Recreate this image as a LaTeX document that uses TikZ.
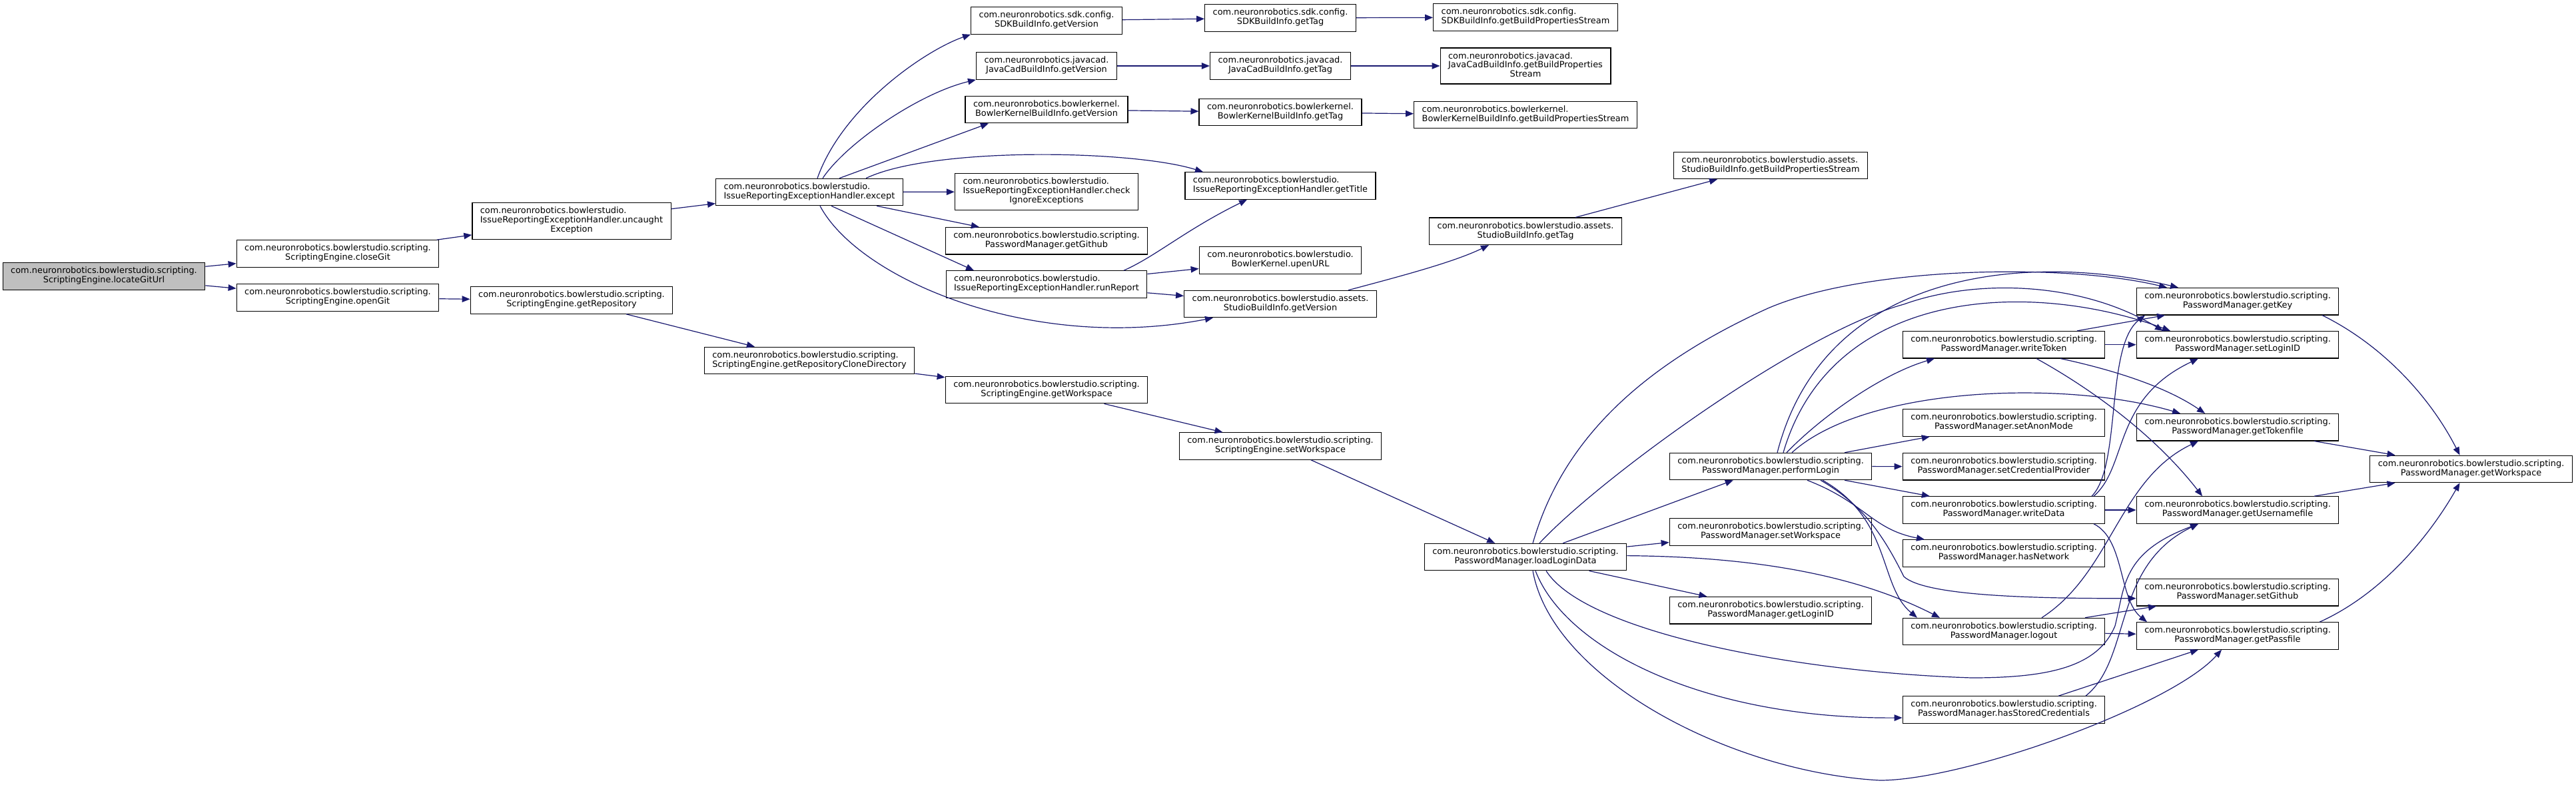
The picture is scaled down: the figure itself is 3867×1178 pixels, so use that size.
\documentclass[tikz,border=0pt]{standalone}
\usepackage{fontspec}
\setmainfont{DejaVu Sans}
\usepackage{xcolor}
\definecolor{cgEdge}{RGB}{25,25,112}
\definecolor{cgRoot}{RGB}{191,191,191}
\usepackage{tikz}
\usetikzlibrary{arrows.meta,calc}
\newcommand{\pkgscr}{com.neuronrobotics.bowlerstudio.scripting.}
\newcommand{\pkgbs}{com.neuronrobotics.bowlerstudio.}
\newcommand{\twoln}[2]{\begin{tabular}{@{}l@{}}#1\\\multicolumn{1}{@{}c@{}}{#2}\end{tabular}}
\newcommand{\threeln}[3]{\begin{tabular}{@{}l@{}}#1\\#2\\\multicolumn{1}{@{}c@{}}{#3}\end{tabular}}

\begin{document}
\begin{tikzpicture}[
  fn/.style={draw=black,line width=1.2pt,fill=white,inner xsep=12pt,inner ysep=6.3pt,
    font=\fontsize{12.9}{13.7}\selectfont},
  root/.style={fn,fill=cgRoot},
  link/.style={cgEdge,line width=1.2pt,-{Triangle[length=12pt,width=9.5pt]}},
  x=1pt,y=-1pt]

  \useasboundingbox (0,0) rectangle (3867,1178);

  % callers
  \node[root] (locate) at (156,415) {\twoln{\pkgscr}{ScriptingEngine.locateGitUrl}};
  \node[fn] (closegit) at (507,381) {\twoln{\pkgscr}{ScriptingEngine.closeGit}};
  \node[fn] (opengit) at (507,447) {\twoln{\pkgscr}{ScriptingEngine.openGit}};
  \node[fn] (uncaught) at (858,332) {\threeln{\pkgbs}{IssueReportingExceptionHandler.uncaught}{Exception}};
  \node[fn] (getrepo) at (858,451) {\twoln{\pkgscr}{ScriptingEngine.getRepository}};
  \node[fn] (except) at (1215,288.5) {\twoln{\pkgbs}{IssueReportingExceptionHandler.except}};
  \node[fn] (clonedir) at (1215,541.5) {\twoln{\pkgscr}{ScriptingEngine.getRepositoryCloneDirectory}};

  % build info column
  \node[fn] (sdkver) at (1571,31) {\twoln{com.neuronrobotics.sdk.config.}{SDKBuildInfo.getVersion}};
  \node[fn] (jcver) at (1571,99) {\twoln{com.neuronrobotics.javacad.}{JavaCadBuildInfo.getVersion}};
  \node[fn] (bkver) at (1571,164.5) {\twoln{com.neuronrobotics.bowlerkernel.}{BowlerKernelBuildInfo.getVersion}};
  \node[fn] (checkign) at (1571,288) {\threeln{\pkgbs}{IssueReportingExceptionHandler.check}{IgnoreExceptions}};
  \node[fn] (getgithub) at (1571,361.7) {\twoln{\pkgscr}{PasswordManager.getGithub}};
  \node[fn] (runreport) at (1571,427) {\twoln{\pkgbs}{IssueReportingExceptionHandler.runReport}};
  \node[fn] (segetws) at (1571,585.6) {\twoln{\pkgscr}{ScriptingEngine.getWorkspace}};

  \node[fn] (sdktag) at (1922,27) {\twoln{com.neuronrobotics.sdk.config.}{SDKBuildInfo.getTag}};
  \node[fn] (jctag) at (1922,99) {\twoln{com.neuronrobotics.javacad.}{JavaCadBuildInfo.getTag}};
  \node[fn] (bktag) at (1922,168.6) {\twoln{com.neuronrobotics.bowlerkernel.}{BowlerKernelBuildInfo.getTag}};
  \node[fn] (gettitle) at (1922,279) {\twoln{\pkgbs}{IssueReportingExceptionHandler.getTitle}};
  \node[fn] (upenurl) at (1922,391) {\twoln{\pkgbs}{BowlerKernel.upenURL}};
  \node[fn] (sbiver) at (1922,456.6) {\twoln{com.neuronrobotics.bowlerstudio.assets.}{StudioBuildInfo.getVersion}};
  \node[fn] (sesetws) at (1922,670) {\twoln{\pkgscr}{ScriptingEngine.setWorkspace}};

  \node[fn] (sdkbps) at (2290,26) {\twoln{com.neuronrobotics.sdk.config.}{SDKBuildInfo.getBuildPropertiesStream}};
  \node[fn] (jcbps) at (2290,99) {\threeln{com.neuronrobotics.javacad.}{JavaCadBuildInfo.getBuildProperties}{Stream}};
  \node[fn] (bkbps) at (2290,172.6) {\twoln{com.neuronrobotics.bowlerkernel.}{BowlerKernelBuildInfo.getBuildPropertiesStream}};
  \node[fn] (sbitag) at (2290,347.3) {\twoln{com.neuronrobotics.bowlerstudio.assets.}{StudioBuildInfo.getTag}};
  \node[fn] (loadlogin) at (2290,836.6) {\twoln{\pkgscr}{PasswordManager.loadLoginData}};
  \node[fn] (sbibps) at (2658,248.5) {\twoln{com.neuronrobotics.bowlerstudio.assets.}{StudioBuildInfo.getBuildPropertiesStream}};

  % password manager
  \node[fn] (perflogin) at (2658,700.5) {\twoln{\pkgscr}{PasswordManager.performLogin}};
  \node[fn] (pmsetws) at (2658,799) {\twoln{\pkgscr}{PasswordManager.setWorkspace}};
  \node[fn] (getloginid) at (2658,916.7) {\twoln{\pkgscr}{PasswordManager.getLoginID}};
  \node[fn] (writetoken) at (3008,517.7) {\twoln{\pkgscr}{PasswordManager.writeToken}};
  \node[fn] (anonmode) at (3008,635) {\twoln{\pkgscr}{PasswordManager.setAnonMode}};
  \node[fn] (credprov) at (3008,700.7) {\twoln{\pkgscr}{PasswordManager.setCredentialProvider}};
  \node[fn] (writedata) at (3008,766) {\twoln{\pkgscr}{PasswordManager.writeData}};
  \node[fn] (hasnet) at (3008,831) {\twoln{\pkgscr}{PasswordManager.hasNetwork}};
  \node[fn] (logout) at (3008,948.5) {\twoln{\pkgscr}{PasswordManager.logout}};
  \node[fn] (hasstored) at (3008,1066) {\twoln{\pkgscr}{PasswordManager.hasStoredCredentials}};
  \node[fn] (getkey) at (3359,452.7) {\twoln{\pkgscr}{PasswordManager.getKey}};
  \node[fn] (setloginid) at (3359,517.7) {\twoln{\pkgscr}{PasswordManager.setLoginID}};
  \node[fn] (tokenfile) at (3359,641.7) {\twoln{\pkgscr}{PasswordManager.getTokenfile}};
  \node[fn] (userfile) at (3359,766) {\twoln{\pkgscr}{PasswordManager.getUsernamefile}};
  \node[fn] (setgithub) at (3359,889.7) {\twoln{\pkgscr}{PasswordManager.setGithub}};
  \node[fn] (passfile) at (3359,955) {\twoln{\pkgscr}{PasswordManager.getPassfile}};
  \node[fn] (pmgetws) at (3709.5,704.4) {\twoln{\pkgscr}{PasswordManager.getWorkspace}};

  % calls
  \draw[link] (locate) -- (closegit);
  \draw[link] (locate) -- (opengit);
  \draw[link] (closegit) -- (uncaught);
  \draw[link] (uncaught) -- (except);
  \draw[link] (opengit) -- (getrepo);
  \draw[link] (getrepo) -- (clonedir);
  \draw[link] (clonedir) -- (segetws);
  \draw[link] (segetws) -- (sesetws);
  \draw[link] (sesetws) -- (loadlogin);

  \draw[link] ($(except.north)+(12,0)$) .. controls (1265,160) and (1390,75) .. (sdkver.south west);
  \draw[link] ($(except.north)+(20,0)$) .. controls (1270,215) and (1380,140) .. (jcver.south west);
  \draw[link] ($(except.north)+(45,0)$) -- ($(bkver.south)+(-87,0)$);
  \draw[link] ($(except.north)+(85,0)$) .. controls (1400,220) and (1700,225) .. ($(gettitle.north)+(-116,0)$);
  \draw[link] (except) -- (checkign);
  \draw[link] (except) -- (getgithub);
  \draw[link] ($(except.south)+(33,0)$) -- ($(runreport.north)+(-109,0)$);
  \draw[link] ($(except.south)+(16,0)$) .. controls (1290,420) and (1550,530) .. ($(sbiver.south)+(-101,0)$);

  \draw[link] (sdkver) -- (sdktag);
  \draw[link] (sdktag) -- (sdkbps);
  \draw[link] (jcver) -- (jctag);
  \draw[link] (jctag) -- (jcbps);
  \draw[link] (bkver) -- (bktag);
  \draw[link] (bktag) -- (bkbps);

  \draw[link] ($(runreport.north)+(116,0)$) .. controls (1735,385) and (1780,345) .. ($(gettitle.south)+(-50,0)$);
  \draw[link] (runreport) -- (upenurl);
  \draw[link] (runreport) -- (sbiver);
  \draw[link] ($(sbiver.north)+(102,0)$) .. controls (2090,418) and (2180,395) .. ($(sbitag.south)+(-55,0)$);
  \draw[link] ($(sbitag.north)+(75,0)$) -- ($(sbibps.south)+(-80,0)$);

  % loadLoginData
  \draw[link] (loadlogin) -- (perflogin);
  \draw[link] (loadlogin) -- (pmsetws);
  \draw[link] (loadlogin) -- (getloginid);
  \draw[link] ($(loadlogin.east)+(0,-2)$) .. controls (2620,836) and (2780,860) .. ($(logout.north)+(-96,0)$);
  \draw[link] ($(loadlogin.south)+(15,0)$) .. controls (2350,975) and (2560,1080) .. ($(hasstored.west)+(0,12)$);
  \draw[link] ($(loadlogin.south)+(31,0)$) .. controls (2380,950) and (2700,1010) .. (2960,1018)
    .. controls (3080,1018) and (3150,1000) .. (3175,940)
    .. controls (3190,880) and (3185,830) .. ($(userfile.south)+(-59,0)$);
  \draw[link] ($(loadlogin.south)+(11,0)$) .. controls (2330,1020) and (2600,1160) .. (2822,1172)
    .. controls (2950,1172) and (3260,1060) .. ($(passfile.south)+(-24,0)$);
  \draw[link] ($(loadlogin.north)+(11,0)$) .. controls (2340,680) and (2440,560) .. (2654,463)
    .. controls (2800,400) and (3100,395) .. ($(getkey.north)+(-106,0)$);
  \draw[link] ($(loadlogin.north)+(21,0)$) .. controls (2400,720) and (2700,500) .. (2858,457)
    .. controls (2960,420) and (3120,420) .. ($(setloginid.north)+(-112,0)$);

  % performLogin
  \draw[link] ($(perflogin.north)+(10,0)$) .. controls (2740,400) and (3050,380) .. ($(getkey.north)+(-89,0)$);
  \draw[link] ($(perflogin.north)+(19,0)$) .. controls (2750,430) and (3050,420) .. ($(setloginid.north)+(-101,0)$);
  \draw[link] ($(perflogin.north)+(24,0)$) .. controls (2740,620) and (2830,560) .. ($(writetoken.south)+(-104,0)$);
  \draw[link] ($(perflogin.north)+(32,0)$) .. controls (2800,580) and (3100,570) .. ($(tokenfile.north)+(-86,0)$);
  \draw[link] (perflogin) -- (anonmode);
  \draw[link] (perflogin) -- (credprov);
  \draw[link] (perflogin) -- (writedata);
  \draw[link] ($(perflogin.south)+(55,0)$) .. controls (2800,755) and (2810,795) .. ($(hasnet.north)+(-119,0)$);
  \draw[link] ($(perflogin.south)+(75,0)$) .. controls (2800,760) and (2830,810) .. (2858,866)
    .. controls (2890,895) and (3050,899) .. ($(setgithub.west)+(0,9)$);
  \draw[link] ($(perflogin.south)+(78,0)$) .. controls (2840,780) and (2820,880) .. ($(logout.north)+(-130,0)$);

  % writeToken, writeData, logout, hasStoredCredentials
  \draw[link] ($(writetoken.north)+(110,0)$) -- ($(getkey.south)+(-109,0)$);
  \draw[link] (writetoken) -- (setloginid);
  \draw[link] ($(writetoken.south)+(85,0)$) .. controls (3170,555) and (3250,580) .. ($(tokenfile.north)+(-49,0)$);
  \draw[link] ($(writetoken.south)+(49,0)$) .. controls (3150,590) and (3240,660) .. ($(userfile.north)+(-53,0)$);

  \draw[link] ($(writedata.north)+(132,0)$) .. controls (3185,700) and (3160,520) .. ($(getkey.south)+(-139,0)$);
  \draw[link] ($(writedata.north)+(135,0)$) .. controls (3195,700) and (3170,600) .. ($(setloginid.south)+(-59,0)$);
  \draw[link] (writedata) -- (userfile);
  \draw[link] ($(writedata.south)+(135,0)$) .. controls (3190,810) and (3180,900) .. ($(passfile.north)+(-136,0)$);

  \draw[link] ($(logout.north)+(57,0)$) .. controls (3170,860) and (3180,720) .. ($(tokenfile.south)+(-59,0)$);
  \draw[link] ($(logout.north)+(122,0)$) -- ($(setgithub.south)+(-122,0)$);
  \draw[link] (logout) -- (passfile);

  \draw[link] ($(hasstored.north)+(82,0)$) -- ($(passfile.south)+(-59,0)$);
  \draw[link] ($(hasstored.north)+(123,0)$) .. controls (3200,990) and (3170,850) .. ($(userfile.south)+(-59,0)$);

  % to getWorkspace
  \draw[link] ($(getkey.south)+(127,0)$) .. controls (3580,520) and (3650,600) .. ($(pmgetws.north)+(-17,0)$);
  \draw[link] ($(tokenfile.south)+(115,0)$) -- ($(pmgetws.north)+(-114,0)$);
  \draw[link] ($(userfile.north)+(115,0)$) -- ($(pmgetws.south)+(-114,0)$);
  \draw[link] ($(passfile.north)+(123,0)$) .. controls (3580,890) and (3650,800) .. ($(pmgetws.south)+(-17,0)$);
\end{tikzpicture}
\end{document}
